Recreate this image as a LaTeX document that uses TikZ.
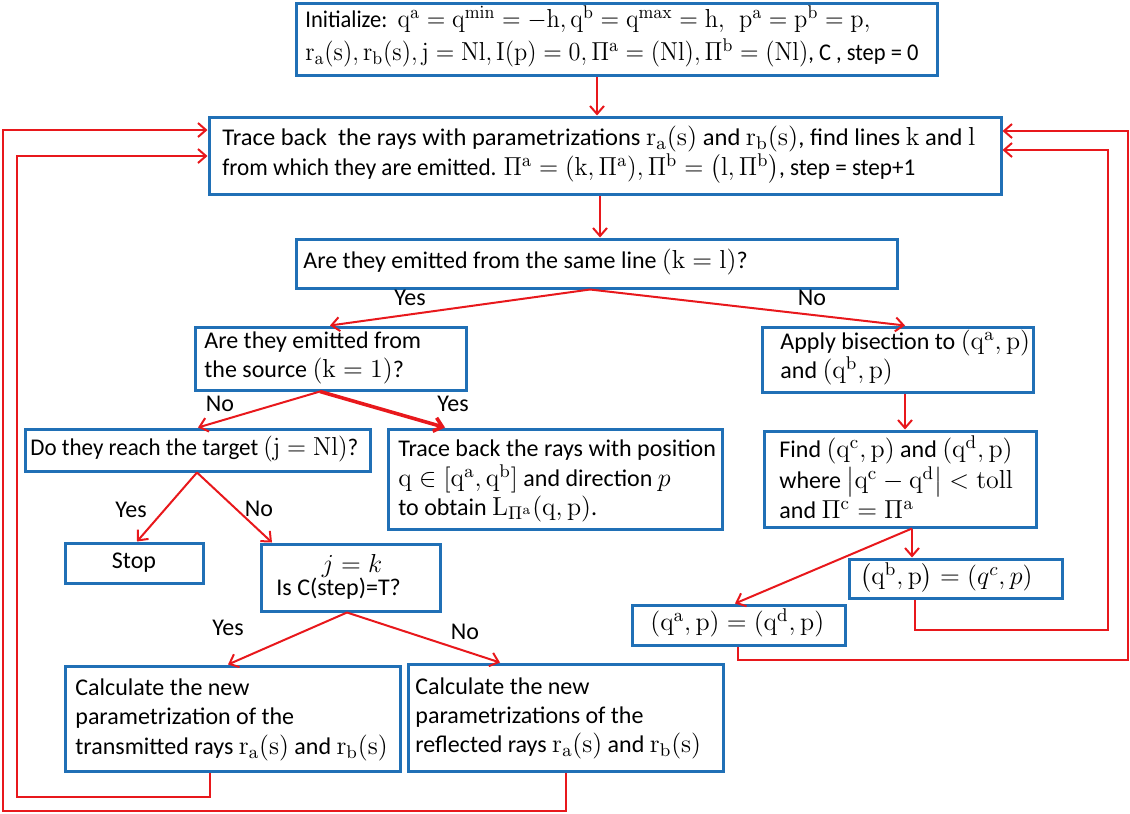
\RequirePackage{fix-cm}
\documentclass[tikz,border=0pt]{standalone}
\usepackage{amsmath}
\usepackage{graphicx}
\usepackage[no-math]{fontspec}
\setmainfont{Carlito}
\DeclareMathSizes{12}{13}{9.2}{7}
\usetikzlibrary{arrows.meta,fit}
\definecolor{boxblue}{RGB}{32,112,182}
\definecolor{arrred}{RGB}{232,24,28}
\newcommand{\fitw}[2]{\resizebox{#1}{\height}{#2}}
\begin{document}
\begin{tikzpicture}[x=0.5pt,y=-0.5pt,font=\fontsize{12}{14}\selectfont,
  box/.style={draw=boxblue,line width=1.5pt,inner sep=0pt},
  txt/.style={anchor=mid west,inner sep=0pt},
  lbl/.style={inner sep=0pt},
  arr/.style={draw=arrred,line width=1pt,-{Straight Barb[length=4pt,width=7pt]}},
  thickarr/.style={arr,line width=1.8pt}]
\useasboundingbox (0,0) rectangle (1130,814);

% boxes
\node[box,fit={(296,3)(937,75)}] (init) {};
\node[box,fit={(209,117)(1001,194)}] (trace) {};
\node[box,fit={(296,239)(897,288)}] (same) {};
\node[box,fit={(195,327)(466,390)}] (source) {};
\node[box,fit={(762,327)(1033,392)}] (bisect) {};
\node[box,fit={(25,429)(370,471)}] (target) {};
\node[box,fit={(388,429)(722,529)}] (position) {};
\node[box,fit={(764,431)(1036,527)}] (find) {};
\node[box,fit={(65,543)(203,583)}] (stop) {};
\node[box,fit={(261,544)(440,611)}] (jk) {};
\node[box,fit={(65,666)(400,771)}] (trans) {};
\node[box,fit={(408,664)(723,771)}] (refl) {};
\node[box,fit={(849,559)(1062,598)}] (qb) {};
\node[box,fit={(632,605)(845,645)}] (qa) {};

% texts
\node[txt] (i1) at (305,23) {\fitw{282.5pt}{Initialize:\ \ $\mathrm{q^a=q^{min}=-h, q^b=q^{max}=h,\ \ p^a=p^b=p,}$}};
\node[txt] (i2) at (305,56) {\fitw{306.5pt}{$\mathrm{r_a(s), r_b(s), j=Nl, I(p)=0, \Pi^a=(Nl), \Pi^b=(Nl)}$, C , step = 0}};
\node[txt] (t1) at (222,141) {\fitw{376.5pt}{Trace back\ \ the rays with parametrizations\ $\mathrm{r_a(s)}$ and $\mathrm{r_b(s)}$, find lines $\mathrm{k}$ and $\mathrm{l}$}};
\node[txt] (t2) at (222,171) {\fitw{346.5pt}{from which they are emitted. $\mathrm{\Pi^a=(k,\Pi^a), \Pi^b=\bigl(l,\Pi^b\bigr)}$, step = step+1}};
\node[txt] (s1) at (303,264) {Are they emitted from the same line $(\mathrm{k=l})$?};
\node[txt] (so1) at (204,344) {Are they emitted from};
\node[txt] (so2) at (204,373) {the source $(\mathrm{k=1})$?};
\node[txt] (b1) at (780,345) {Apply bisection to $(\mathrm{q^a,p})$};
\node[txt] (b2) at (780,374) {and $(\mathrm{q^b,p})$};
\node[txt] (ta1) at (30,451) {\fitw{164pt}{Do they reach the target $(\mathrm{j=Nl})$?}};
\node[txt] (p1) at (398,452) {Trace back the rays with position};
\node[txt] (p2) at (398,482) {$\mathrm{q}\in[\mathrm{q^a,q^b}]$ and direction $p$};
\node[txt] (p3) at (398,511) {to obtain $\mathrm{L_{\Pi^a}(q,p)}$.};
\node[txt] (f1) at (779,453) {Find $(\mathrm{q^c,p})$ and $(\mathrm{q^d,p})$};
\node[txt] (f2) at (779,484) {where $\bigl|\mathrm{q^c-q^d}\bigr|<\mathrm{toll}$};
\node[txt] (f3) at (779,514) {and $\mathrm{\Pi^c=\Pi^a}$};
\node[lbl] (st) at (stop.center) {Stop};
\node[lbl] (jk1) at (352,566) {$j=k$};
\node[txt] (jk2) at (276,591) {Is C(step)=T?};
\node[txt] (tr1) at (75,691) {Calculate the new};
\node[txt] (tr2) at (75,720) {parametrization of the};
\node[txt] (tr3) at (75,750) {transmitted rays $\mathrm{r_a(s)}$ and $\mathrm{r_b(s)}$};
\node[txt] (r1) at (415,690) {Calculate the new};
\node[txt] (r2) at (415,719) {parametrizations of the};
\node[txt] (r3) at (415,748) {reflected rays $\mathrm{r_a(s)}$ and $\mathrm{r_b(s)}$};
\node[txt] (qbt) at (860,580) {$\bigl(\mathrm{q^b,p}\bigr)=(q^c,p)$};
\node[txt] (qat) at (650,626) {$(\mathrm{q^a,p})=(\mathrm{q^d,p})$};

% labels
\node[lbl] (l1) at (410,298) {Yes};
\node[lbl] (l2) at (812,298) {No};
\node[lbl] (l3) at (220,404) {No};
\node[lbl] (l4) at (453,404) {Yes};
\node[lbl] (l5) at (131,510) {Yes};
\node[lbl] (l6) at (259,509) {No};
\node[lbl] (l7) at (228,628) {Yes};
\node[lbl] (l8) at (465,632) {No};

% connectors
\draw[arr] (init.south -| 597,0) -- (trace.north -| 597,0);
\draw[arr] (trace.south -| 600,0) -- (same.north -| 600,0);
\draw[arr] (same.south -| 590,0) -- (source.north -| 330,0);
\draw[arr] (same.south -| 590,0) -- (bisect.north -| 905,0);
\draw[arr] (source.south -| 320,0) -- (target.north -| 198,0);
\draw[thickarr] (source.south -| 320,0) -- (position.north -| 445,0);
\draw[arr] (bisect.south -| 905,0) -- (find.north -| 905,0);
\draw[arr] (target.south -| 197,0) -- (stop.north -| 137,0);
\draw[arr] (target.south -| 197,0) -- (jk.north -| 272,0);
\draw[arr] (jk.south -| 347,0) -- (trans.north -| 228,0);
\draw[arr] (jk.south -| 347,0) -- (refl.north -| 500,0);
\draw[arr] (find.south -| 912,0) -- (qa.north -| 735,0);
\draw[arr] (find.south -| 912,0) -- (qb.north -| 912,0);
\draw[arr] (qb.south -| 915,0) |- (1108,630) |- (trace.east |- 0,150);
\draw[arr] (qa.south -| 738,0) |- (1128,660) |- (trace.east |- 0,131);
\draw[arr] (trans.south -| 210,0) |- (17,797) |- (trace.west |- 0,156);
\draw[arr] (refl.south -| 566,0) |- (3,811) |- (trace.west |- 0,130);
\end{tikzpicture}
\end{document}
